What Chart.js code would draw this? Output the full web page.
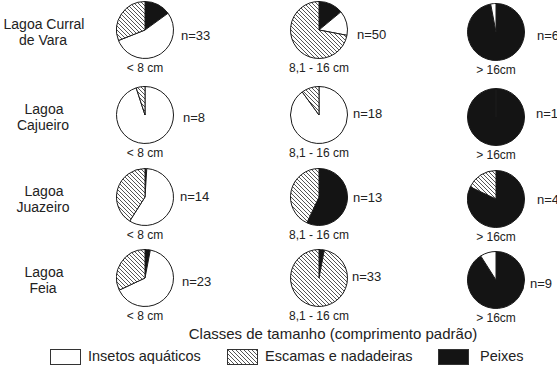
<!DOCTYPE html>
<html>
<head>
<meta charset="utf-8">
<script src="https://cdn.jsdelivr.net/npm/chart.js@4/dist/chart.umd.min.js"></script>
<style>
  body { margin: 0; background: #fff; }
  #stage { position: relative; width: 557px; height: 370px; overflow: hidden;
    font-family: "Liberation Sans", Arial, sans-serif; color: #222; }
  #stage div { position: absolute; white-space: nowrap; line-height: 1; }
  #stage canvas { position: absolute; }
  .c { transform: translate(-50%, -50%); text-align: center; }
  .l { transform: translateY(-50%); }
  .box { width: 29px; height: 14px; border: 1px solid #333; }
</style>
</head>
<body>
<div id="stage"></div>
<script>
const lakes = [["Lagoa Curral", "de Vara"], ["Lagoa", "Cajueiro"], ["Lagoa", "Juazeiro"], ["Lagoa", "Feia"]];
const sizeClasses = ["< 8 cm", "8,1 - 16 cm", "> 16cm"];
const sampleSizes = [[33, 50, 6], [8, 18, 1], [14, 13, 4], [23, 33, 9]];
const categories = ["Peixes", "Insetos aquáticos", "Escamas e nadadeiras"];

// percentages per lake (rows) and size class (cols), clockwise from 12 o'clock
const peixes  = [[15, 14, 97], [0, 0, 100], [1, 57, 82], [3, 3, 91]];
const insetos = [[54, 14, 3], [95, 90, 0], [58, 0, 0], [65, 0, 9]];
const escamas = [[31, 72, 0], [5, 10, 0], [41, 43, 18], [32, 97, 0]];

const colX = [145, 319, 496];
const rowY = [30, 115, 197, 278];
const nX = [[181, 357, 537], [183, 353, 536], [180, 353, 537], [182, 352, 530]];
const nY = [[35, 34, 35], [117, 113, 113], [196, 197, 199], [281, 276, 283]];

const stage = document.getElementById("stage");

function addText(txt, x, y, size, cls) {
  const d = document.createElement("div");
  d.className = cls;
  d.style.left = x + "px";
  d.style.top = y + "px";
  d.style.fontSize = size + "px";
  d.textContent = txt;
  stage.appendChild(d);
  return d;
}

function makeHatch() {
  const p = document.createElement("canvas");
  p.width = 4; p.height = 4;
  const g = p.getContext("2d");
  g.fillStyle = "#fff";
  g.fillRect(0, 0, 4, 4);
  g.strokeStyle = "#555";
  g.lineWidth = 1;
  g.beginPath();
  g.moveTo(-1, -1); g.lineTo(5, 5);
  g.moveTo(3, -1); g.lineTo(5, 1);
  g.moveTo(-1, 3); g.lineTo(1, 5);
  g.stroke();
  return g.createPattern(p, "repeat");
}

const hatch = makeHatch();
const fills = ["#141414", "#ffffff", hatch];

for (let r = 0; r < lakes.length; r++) {
  addText(lakes[r][0], 44, rowY[r] - 6, 14, "c");
  addText(lakes[r][1], 43, rowY[r] + 10, 14, "c");

  for (let c = 0; c < sizeClasses.length; c++) {
    const cx = colX[c];
    const cy = rowY[r] + (c === 2 ? 2 : 0);
    const cv = document.createElement("canvas");
    cv.width = 58; cv.height = 58;
    cv.style.left = (cx - 29) + "px";
    cv.style.top = (cy - 29) + "px";
    stage.appendChild(cv);

    new Chart(cv, {
      type: "pie",
      data: {
        labels: categories,
        datasets: [{
          data: [peixes[r][c], insetos[r][c], escamas[r][c]],
          backgroundColor: fills,
          borderColor: "#1a1a1a",
          borderWidth: 1,
        }]
      },
      options: {
        responsive: false,
        animation: false,
        layout: { padding: 0 },
        plugins: { legend: { display: false }, tooltip: { enabled: false } }
      }
    });

    addText(sizeClasses[c], cx, rowY[r] + 38 + (c === 2 ? 2 : 0), 12, "c");
    addText("n=" + sampleSizes[r][c], nX[r][c], nY[r][c], 13, "l");
  }
}

addText("Classes de tamanho (comprimento padrão)", 333, 333, 15, "c");

const legendX = [50, 227, 438];
const legendTextX = [88, 265, 480];
for (let i = 0; i < 3; i++) {
  const k = [1, 2, 0][i];
  const b = document.createElement("div");
  b.className = "box";
  b.style.left = legendX[i] + "px";
  b.style.top = "349px";
  if (k === 0) b.style.background = "#141414";
  if (k === 2) {
    const hc = document.createElement("canvas");
    hc.width = 29; hc.height = 14;
    const g = hc.getContext("2d");
    g.fillStyle = hatch;
    g.fillRect(0, 0, 29, 14);
    hc.style.left = "0px"; hc.style.top = "0px";
    b.appendChild(hc);
  }
  stage.appendChild(b);
  addText(categories[k], legendTextX[i], 356, 14.5, "l");
}
</script>
</body>
</html>
